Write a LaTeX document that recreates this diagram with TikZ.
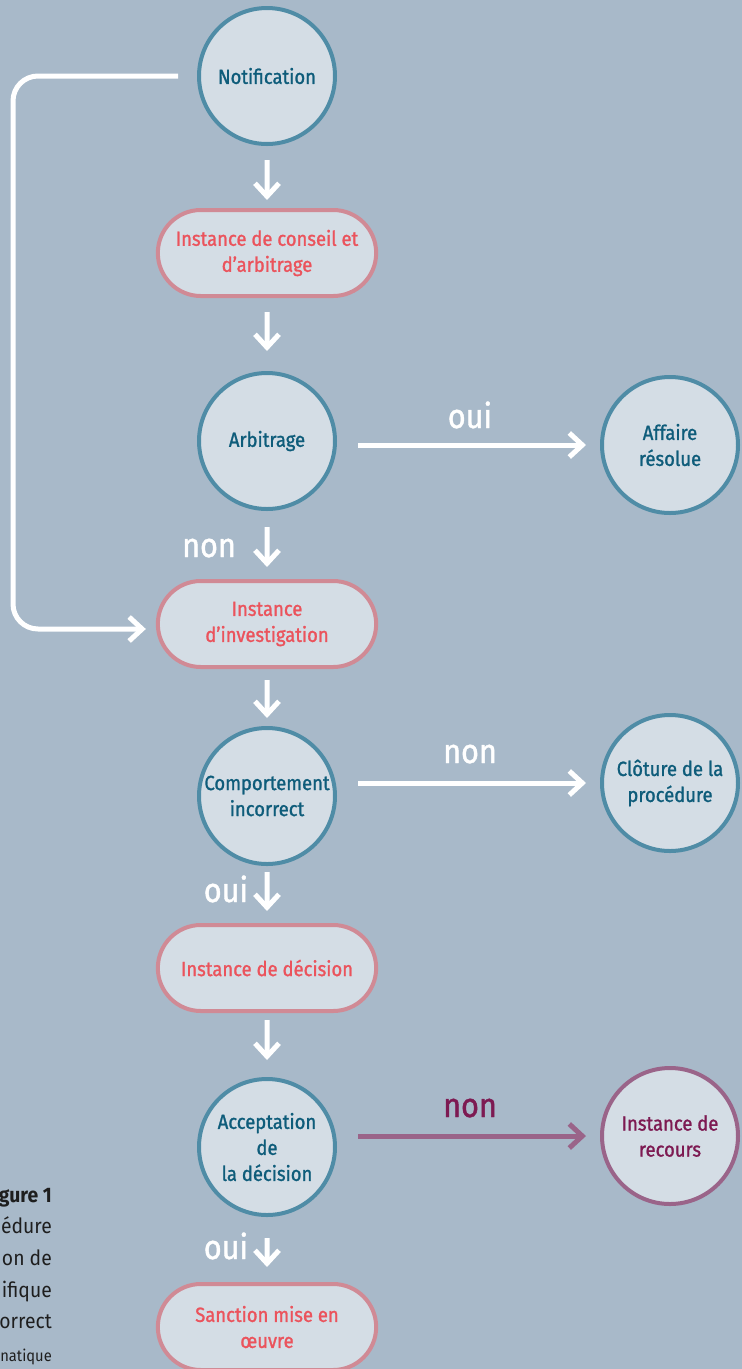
\documentclass[tikz,border=0pt]{standalone}
\usepackage{fontspec}
\setmainfont{Fira Sans}[FakeStretch=0.92]
\newfontfamily\gras{Fira Sans}[FakeStretch=0.9, FakeBold=1.2]
\usepackage{tikz}
\usetikzlibrary{arrows.meta}
\usetikzlibrary{shapes.misc}

\definecolor{fond}{HTML}{A8B9C9}
\definecolor{clair}{HTML}{D4DDE5}
\definecolor{bleu}{HTML}{4F8CA6}
\definecolor{bleutxt}{HTML}{0E5C7A}
\definecolor{rose}{HTML}{D08A95}
\definecolor{rouge}{HTML}{EB535C}
\definecolor{violet}{HTML}{9A6489}
\definecolor{violettxt}{HTML}{7D1A52}
\definecolor{noirtxt}{HTML}{1E1E1E}

\begin{document}
\begin{tikzpicture}[x=1pt, y=-1pt,
    etape/.style={circle, draw=bleu, line width=4pt, fill=clair, minimum size=136pt,
        inner sep=0pt, text=bleutxt, align=center, font=\gras\fontsize{20.5}{26}\selectfont},
    instance/.style={rounded rectangle, draw=rose, line width=4pt, fill=clair,
        minimum width=225pt, minimum height=86pt, text=rouge, align=center,
        font=\gras\fontsize{20.5}{26}\selectfont},
    recours/.style={etape, draw=violet, text=violettxt},
    fleche/.style={draw=white, line width=5pt, -{Straight Barb[length=13pt, width=24pt]}},
    reponse/.style={anchor=base, inner sep=0pt, text=white, font=\gras\fontsize{34}{34}\selectfont},
    legende/.style={anchor=base east, inner sep=0pt, text=noirtxt, font=\fontsize{21}{21}\selectfont}]
    \useasboundingbox (0, 0) rectangle (742, 1369);
    \clip (0, 0) rectangle (742, 1369);
    \fill [fond] (0, 0) rectangle (742, 1369);
    % main column
    \node [etape] (0) at (267, 76) {Notification};
    \node [instance] (1) at (267, 253) {Instance de conseil et\\d’arbitrage};
    \node [etape] (2) at (267, 441) {Arbitrage};
    \node [instance] (4) at (267, 624) {Instance\\d’investigation};
    \node [etape] (5) at (267, 796) {Comportement\\incorrect};
    \node [instance] (7) at (267, 968) {Instance de décision};
    \node [etape] (8) at (267, 1147) {Acceptation\\de\\la décision};
    \node [instance] (10) at (267, 1327) {Sanction mise en\\œuvre};
    % right column
    \node [etape] (3) at (670, 445) {Affaire\\résolue};
    \node [etape] (6) at (670, 783) {Clôture de la\\procédure};
    \node [recours] (9) at (670, 1136) {Instance de\\recours};
    % answers
    \node [reponse] (11) at (470, 428) {oui};
    \node [reponse] (12) at (209, 557) {non};
    \node [reponse] (13) at (470, 763) {non};
    \node [reponse] (14) at (226, 902) {oui};
    \node [reponse, text=violettxt] (15) at (470, 1117) {non};
    \node [reponse] (16) at (226, 1259) {oui};
    % caption (cut at the edge)
    \node [legende] (17) at (52, 1202) {\bfseries gure 1};
    \node [legende] (18) at (52, 1233) {édure};
    \node [legende] (19) at (52, 1265) {on de};
    \node [legende] (20) at (52, 1297) {ifique};
    \node [legende] (21) at (52, 1328) {orrect};
    \node [legende, font=\fontsize{16}{16}\selectfont] (22) at (52, 1361) {natique};
    % arrows down
    \draw [fleche, shorten <=14pt, shorten >=8pt] (0) to (1);
    \draw [fleche, shorten <=14pt, shorten >=20pt] (1) to (2);
    \draw [fleche, shorten <=16pt, shorten >=12pt] (2) to (4);
    \draw [fleche, shorten <=11pt, shorten >=8pt] (4) to (5);
    \draw [fleche, shorten <=6pt, shorten >=12pt] (5) to (7);
    \draw [fleche, shorten <=7pt, shorten >=17pt] (7) to (8);
    \draw [fleche, shorten <=21pt, shorten >=15pt] (8) to (10);
    % arrows right
    \draw [fleche, shorten <=21pt, shorten >=14pt] (2.east |- 3.west) to (3.west);
    \draw [fleche, shorten <=21pt, shorten >=14pt] (5.east |- 6.west) to (6.west);
    \draw [fleche, draw=violet, shorten <=21pt, shorten >=14pt] (8.east |- 9.west) to (9.west);
    % back to investigation
    \coordinate (23) at (13, 76);
    \draw [fleche, rounded corners=25pt, shorten <=19pt, shorten >=10pt] (0.west) -- (23) |- ([yshift=-5pt]4.west);
\end{tikzpicture}
\end{document}
